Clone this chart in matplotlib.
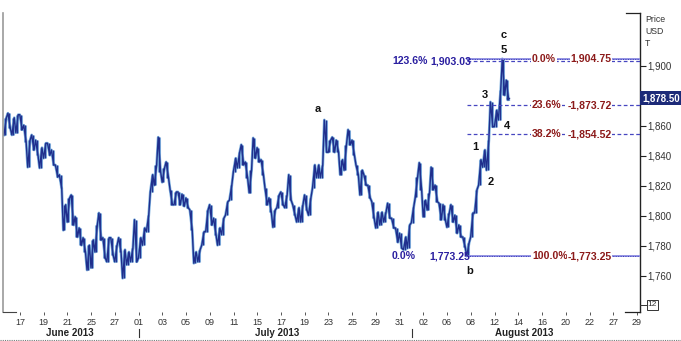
import numpy as np
import matplotlib
matplotlib.use('Agg')
import matplotlib.pyplot as plt
from matplotlib.lines import Line2D
import matplotlib.transforms as mtransforms

plt.rcParams['font.family'] = ['Liberation Sans', 'DejaVu Sans']

# ---------------- data (price bars, 3 bars per trading day) ----------------
highs = [1865.5, 1868.5, 1865.5, 1867.5, 1867.5, 1860.5, 1850.5, 1854.0, 1850.5, 1845.5,
         1848.5, 1848.5, 1844.0, 1834.0, 1827.5, 1807.5, 1812.0, 1814.0, 1799.5, 1792.0,
         1785.5, 1780.5, 1784.0, 1794.0, 1802.0, 1785.5, 1785.5, 1785.5, 1780.5, 1785.5,
         1777.5, 1776.0, 1778.5, 1797.5, 1785.5, 1792.0, 1800.5, 1827.5, 1834.0, 1852.5,
         1832.0, 1836.0, 1817.5, 1816.0, 1816.0, 1814.5, 1812.0, 1804.0, 1776.0, 1777.5,
         1789.5, 1804.0, 1807.5, 1798.5, 1792.0, 1798.5, 1809.5, 1820.5, 1838.5, 1842.5,
         1847.5, 1836.0, 1830.5, 1852.0, 1845.5, 1837.5, 1818.5, 1812.0, 1804.0, 1814.0,
         1816.0, 1814.0, 1827.5, 1807.5, 1805.5, 1807.5, 1814.0, 1812.0, 1834.0, 1834.0,
         1834.0, 1864.0, 1850.5, 1852.5, 1850.5, 1837.5, 1847.5, 1857.5, 1850.5, 1834.0,
         1830.5, 1827.5, 1820.5, 1809.5, 1802.5, 1802.5, 1802.5, 1808.5, 1798.5, 1792.0,
         1788.5, 1786.0, 1794.0, 1806.0, 1826.0, 1835.5, 1810.5, 1815.5, 1832.5, 1820.5,
         1808.5, 1807.5, 1802.0, 1807.5, 1800.5, 1794.0, 1786.0, 1782.0, 1802.0, 1817.5,
         1837.5, 1844.0, 1850.5, 1876.0, 1870.5, 1884.0, 1904.75, 1890.5]
lows = [1854.0, 1858.5, 1854.0, 1855.5, 1857.5, 1849.5, 1832.5, 1844.0, 1840.5, 1832.0,
        1838.5, 1840.5, 1834.0, 1826.0, 1818.5, 1790.5, 1796.0, 1794.0, 1786.0, 1780.5,
        1776.0, 1764.0, 1765.5, 1776.0, 1784.0, 1772.0, 1769.5, 1774.0, 1769.5, 1776.0,
        1758.5, 1767.5, 1769.5, 1769.5, 1772.0, 1780.5, 1789.5, 1816.0, 1820.5, 1829.5,
        1822.5, 1825.5, 1807.5, 1807.5, 1807.5, 1806.5, 1805.5, 1790.5, 1768.5, 1769.5,
        1780.5, 1789.5, 1794.0, 1787.5, 1780.5, 1787.5, 1800.5, 1810.5, 1829.5, 1832.0,
        1834.0, 1825.5, 1815.5, 1838.5, 1836.0, 1827.5, 1807.5, 1802.5, 1792.5, 1805.5,
        1807.5, 1805.5, 1810.5, 1800.5, 1796.0, 1796.0, 1804.0, 1800.5, 1818.5, 1825.5,
        1825.5, 1842.5, 1842.5, 1842.5, 1842.5, 1827.5, 1830.5, 1847.5, 1840.5, 1827.5,
        1814.0, 1820.5, 1812.0, 1798.5, 1792.0, 1794.0, 1796.0, 1798.5, 1792.0, 1782.5,
        1778.5, 1777.5, 1778.5, 1795.5, 1812.5, 1817.5, 1799.5, 1804.0, 1817.5, 1809.5,
        1797.5, 1797.5, 1792.5, 1796.0, 1788.5, 1786.0, 1779.5, 1773.25, 1786.0, 1802.0,
        1820.5, 1832.5, 1830.5, 1859.5, 1859.5, 1864.0, 1880.5, 1877.5]
last_close = 1878.50
bars_per_day = 3
first_bar_day = -1.25

x_tick_labels = ['17', '19', '21', '25', '27', '01', '03', '05', '09', '11', '15', '17', '19',
                 '23', '25', '29', '31', '02', '06', '08', '12', '14', '16', '20', '22', '27', '29']
month_labels = ['June 2013', 'July 2013', 'August 2013']
month_label_day = [4.2, 21.7, 42.5]
month_start_day = [10, 33]
y_ticks = [1760, 1780, 1800, 1820, 1840, 1860, 1880, 1900]

fib_levels = [1904.75, 1903.03, 1873.72, 1854.52, 1773.25]
fib_styles = ['solid', 'dashed', 'dashed', 'dashed', 'solid']
fib_right_pct = ['0.0%', None, '23.6%', '38.2%', '100.0%']
fib_right_val = ['1,904.75', None, '-1,873.72', '-1,854.52', '-1,773.25']
fib_left = [(1903.03, '123.6%', '1,903.03'), (1773.25, '0.0%', '1,773.25')]

waves = ['a', 'b', 'c', '5', '3', '4', '1', '2']
wave_day = [25.1, 37.9, 40.8, 40.8, 39.2, 41.05, 38.35, 39.7]
wave_price = [1871.3, 1763.3, 1920.7, 1910.7, 1880.7, 1860.0, 1846.0, 1822.7]

# ---------------- figure ----------------
W, H = 681, 341
fig = plt.figure(figsize=(W / 100, H / 100), dpi=100)
fig.patch.set_facecolor('white')
px_l, px_r, px_t, px_b = 3, 640, 13, 312
ax = fig.add_axes([px_l / W, 1 - px_b / H, (px_r - px_l) / W, (px_b - px_t) / H])

px_per_day = 11.865
x0_px = 20
ax.set_xlim((px_l - x0_px) / px_per_day, (px_r - x0_px) / px_per_day)
ax.set_ylim(1736.0, 1935.3)

bar_x = first_bar_day + np.arange(len(highs)) / bars_per_day
highs_a = np.array(highs)
lows_a = np.array(lows)
mids = (highs_a + lows_a) / 2

# zig-zag path through each bar's range, in the direction of the next move
zx, zy = [], []
half = 0.5 / bars_per_day * 0.6
for i in range(len(highs_a)):
    nxt = mids[i + 1] if i + 1 < len(mids) else last_close
    up = nxt >= mids[i]
    a, b = (lows_a[i], highs_a[i]) if up else (highs_a[i], lows_a[i])
    zx += [bar_x[i] - half, bar_x[i] + half]
    zy += [a, b]
ax.vlines(bar_x, lows_a, highs_a, color='#86b6e2', lw=2.2, zorder=2)
ax.plot(zx, zy, color='#7aaede', lw=2.0, zorder=2)
ax.plot(zx, zy, color='#1f2e8c', lw=1.0, zorder=3)
ax.vlines(bar_x, lows_a, highs_a, color='#22318f', lw=0.9, zorder=3)
ax.plot([bar_x[-1], bar_x[-1] + 0.15], [last_close, last_close], color='#1f2e8c', lw=1, zorder=3)

# fib lines
line_start_day = 37.7
right_day = (px_r - x0_px) / px_per_day
for lvl, st in zip(fib_levels, fib_styles):
    if st == 'solid':
        ax.plot([line_start_day, right_day], [lvl, lvl], color='#8a8ae0', lw=1.3, zorder=4)
        ax.plot([line_start_day, right_day], [lvl, lvl], color='#3a3ab8', lw=0.7,
                ls=(0, (1, 1.5)), zorder=4)
    else:
        ax.plot([line_start_day, right_day], [lvl, lvl], color='#4646c0', lw=0.9,
                ls=(0, (3, 2)), zorder=4)

red = '#8c1a1a'
blue = '#2a1fa0'
fs_lab = 7.6
bb = dict(facecolor='white', edgecolor='none', pad=0.6)
for lvl, pct, val in zip(fib_levels, fib_right_pct, fib_right_val):
    if pct is None:
        continue
    ax.text(43.15, lvl, pct, color=red, fontsize=fs_lab, fontweight='bold', ha='left',
            va='center', bbox=bb, zorder=6)
    ax.text(49.85, lvl, val, color=red, fontsize=fs_lab, fontweight='bold', ha='right',
            va='center', bbox=bb, zorder=6)
ax.text(34.4, 1903.03, fib_left[0][1], color=blue, fontsize=fs_lab, fontweight='bold',
        ha='right', va='center', zorder=6)
ax.text(38.0, 1903.03, fib_left[0][2], color=blue, fontsize=fs_lab, fontweight='bold',
        ha='right', va='center', zorder=6)
ax.text(31.3, 1773.25, fib_left[1][1], color=blue, fontsize=fs_lab, fontweight='bold',
        ha='left', va='center', zorder=6)
ax.text(37.95, 1773.25, fib_left[1][2], color=blue, fontsize=fs_lab, fontweight='bold',
        ha='right', va='center', zorder=6)

for w, d, p in zip(waves, wave_day, wave_price):
    ax.text(d, p, w, color='#111111', fontsize=8, fontweight='bold', ha='center', va='center',
            zorder=6)

# axes styling
for s in ['top', 'bottom', 'left']:
    ax.spines[s].set_visible(False)
ax.spines['right'].set_color('#222222')
ax.spines['right'].set_linewidth(1.0)
ax.yaxis.tick_right()
ax.set_yticks(y_ticks)
ax.set_yticklabels(['' if v == 1880 else f'{v:,}' for v in y_ticks])
ax.tick_params(axis='y', length=4, width=0.8, colors='#222222', labelsize=7, pad=1.5,
               labelcolor='#333333')
ax.set_xticks(np.arange(len(x_tick_labels)) * 2)
ax.set_xticklabels(x_tick_labels)
ax.tick_params(axis='x', length=2.5, width=0.7, colors='#555555', labelsize=6.5, pad=1.5,
               labelcolor='#333333')

# left grey spine and bracket segments
def fline(xs, ys, **kw):
    fig.add_artist(Line2D([x / W for x in xs], [1 - y / H for y in ys], **kw))

fline([2.5, 2.5], [px_t, px_b], color='#9a9a9a', lw=1.2)
fline([2.5, 16], [px_b, px_b], color='#444444', lw=0.8)
fline([625, px_r], [px_b, px_b], color='#222222', lw=0.9)
fline([626, px_r], [px_t, px_t], color='#222222', lw=0.9)
fline([0, W], [339.5, 339.5], color='#777777', lw=0.8, ls=(0, (1, 1)))

# price box
trans_r = mtransforms.blended_transform_factory(ax.transAxes, ax.transData)
ax.text(1.003, last_close, '1,878.50', transform=trans_r, color='white', fontsize=7,
        fontweight='bold', ha='left', va='center', clip_on=False, zorder=10,
        bbox=dict(boxstyle='square,pad=0.2', facecolor='#1c2a78', edgecolor='none'))

fig.text(645 / W, 1 - 20 / H, 'Price', fontsize=6.3, color='#333333', va='center')
fig.text(645 / W, 1 - 32 / H, 'USD', fontsize=6.3, color='#333333', va='center')
fig.text(645 / W, 1 - 43 / H, 'T', fontsize=6.3, color='#333333', va='center')

# "12" box at bottom right
fline([px_r, 646], [305, 305], color='#333333', lw=0.7)
fig.text(652.5 / W, 1 - 305 / H, '12', fontsize=6, color='#333333', ha='center', va='center',
         bbox=dict(boxstyle='square,pad=0.15', facecolor='white', edgecolor='#333333', lw=0.7))

# month labels and separators
trans_m = mtransforms.blended_transform_factory(ax.transData, fig.transFigure)
for lab, d in zip(month_labels, month_label_day):
    ax.text(d, 1 - 333 / H, lab, transform=trans_m, fontsize=7, fontweight='bold',
            color='#222222', ha='center', va='center', clip_on=False)
for d in month_start_day:
    ax.plot([d, d], [1 - 329 / H, 1 - 337 / H], transform=trans_m, color='#333333', lw=0.8,
            clip_on=False)

fig.savefig('out.png', dpi=100, facecolor='white')
